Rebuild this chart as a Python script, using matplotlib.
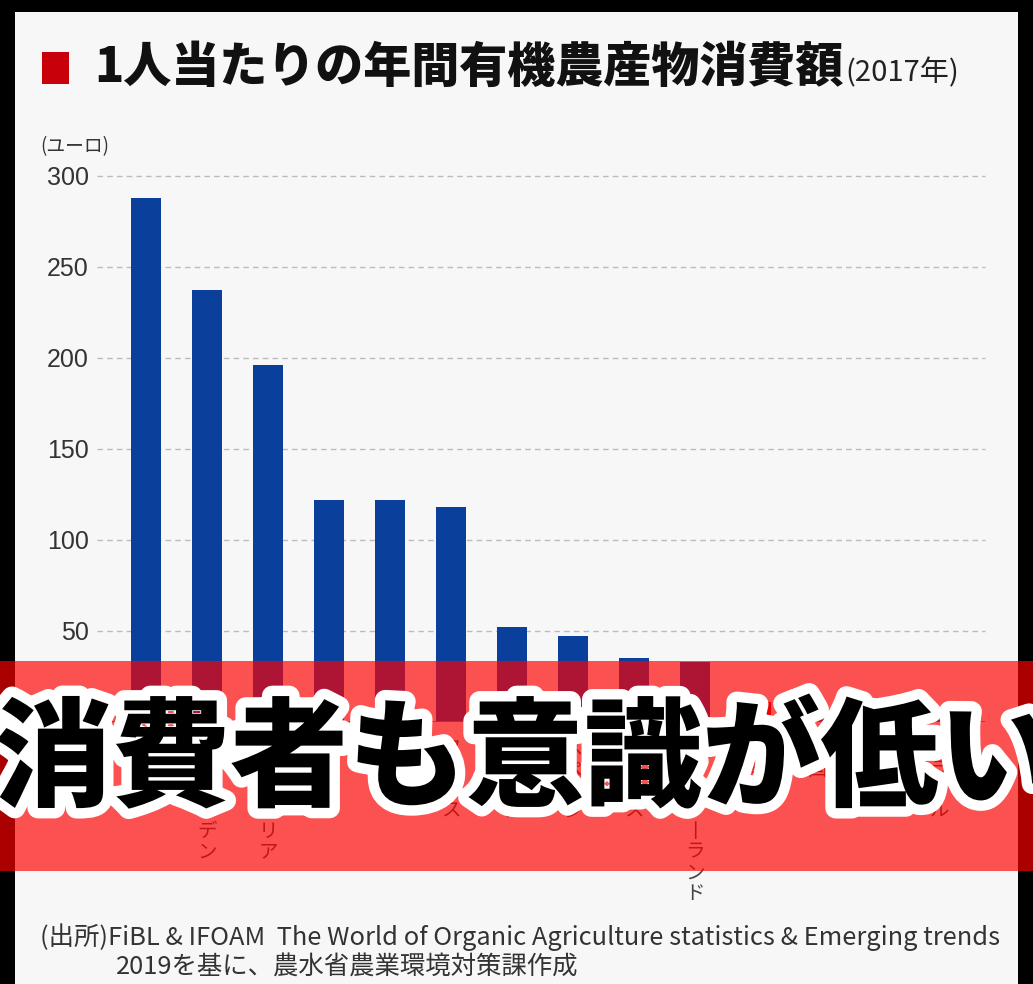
import matplotlib
matplotlib.use("Agg")
import matplotlib.pyplot as plt
from matplotlib.patches import Rectangle
import matplotlib.patheffects as pe

plt.rcParams['font.family'] = ['Noto Sans CJK JP', 'DejaVu Sans']

# per-capita organic food spending, 2017 (EUR)
countries = ["スイス", "スウェーデン", "オーストリア", "アメリカ", "ドイツ", "フランス",
             "イタリア", "スペイン", "イギリス", "ニュージーランド", "日本", "中国",
             "インド", "ブラジル"]
spending = [288, 237, 196, 122, 122, 118, 52, 47, 35, 33, 11, 3, 1, 1]
highlight = "日本"
yticks = [0, 50, 100, 150, 200, 250, 300]

title = "1人当たりの年間有機農産物消費額"
title_year = "(2017年)"
unit = "(ユーロ)"
source1 = "(出所)FiBL & IFOAM  The World of Organic Agriculture statistics & Emerging trends"
source2 = "2019を基に、農水省農業環境対策課作成"
banner = "消費者も意識が低い"

W, H = 1033, 984
BLUE = "#0b3f9c"
RED = "#c8000a"
BG = "#f7f7f7"


def fx(px):
    return px / W


def fy(py):
    return 1 - py / H


def vertical(s):
    # stack characters top to bottom, long vowel mark turned upright
    return "\n".join("丨" if c == "ー" else c for c in s)


fig = plt.figure(figsize=(W / 100, H / 100), dpi=100, facecolor="black")
fig.add_artist(Rectangle((fx(15), 0), fx(1018) - fx(15), fy(12),
                         transform=fig.transFigure, facecolor=BG,
                         edgecolor="none", zorder=-1))

ax = fig.add_axes([fx(97), fy(721.7), fx(985) - fx(97), fy(175.7) - fy(721.7)])
ax.set_facecolor("none")

x = list(range(len(countries)))
colors = [RED if c == highlight else BLUE for c in countries]
ax.bar(x, spending, width=0.49, color=colors, zorder=2)

ax.set_xlim(-0.803, 13.75)
ax.set_ylim(0, 300)
ax.set_yticks(yticks)
ax.set_yticklabels([str(v) for v in yticks], fontsize=18, color="#333333",
                   family=["Liberation Sans", "DejaVu Sans"])
ax.set_xticks(x)
ax.set_xticklabels([vertical(c) for c in countries], fontsize=14,
                   color="#444444", va="top", linespacing=0.98)
ax.tick_params(axis="both", length=0)
ax.tick_params(axis="y", pad=6)
ax.tick_params(axis="x", pad=12)

for v in yticks[1:]:
    ax.axhline(v, color="#bbbbbb", lw=1, ls=(0, (4, 3)), zorder=1, clip_on=False)
ax.axhline(0, color="#777777", lw=2, zorder=3)
for s in ax.spines.values():
    s.set_visible(False)

# title block
fig.add_artist(Rectangle((fx(42), fy(84)), fx(27), fy(52) - fy(84),
                         transform=fig.transFigure, facecolor=RED,
                         edgecolor="none"))
fig.text(fx(94), fy(68), title, fontsize=34.6, fontweight="black",
         ha="left", va="center", color="#111111")
fig.text(fx(845), fy(73), title_year, fontsize=21, ha="left", va="center",
         color="#222222")
fig.text(fx(40), fy(147), unit, fontsize=13.5, ha="left", va="center",
         color="#333333")

fig.text(fx(40), fy(937), source1, fontsize=18.3, ha="left", va="center",
         color="#333333")
fig.text(fx(116), fy(967), source2, fontsize=18.3, ha="left", va="center",
         color="#333333")

# red banner over the lower part of the chart
fig.add_artist(Rectangle((0, fy(871)), 1, fy(661) - fy(871),
                         transform=fig.transFigure, facecolor=(1, 0, 0),
                         alpha=0.67, edgecolor="none", zorder=5))
fig.text(fx(-6), fy(762), banner, fontsize=85, fontweight="black",
         ha="left", va="center", color="black", zorder=6,
         path_effects=[pe.withStroke(linewidth=15, foreground="white")])

fig.savefig("out.png", dpi=100, facecolor=fig.get_facecolor())
